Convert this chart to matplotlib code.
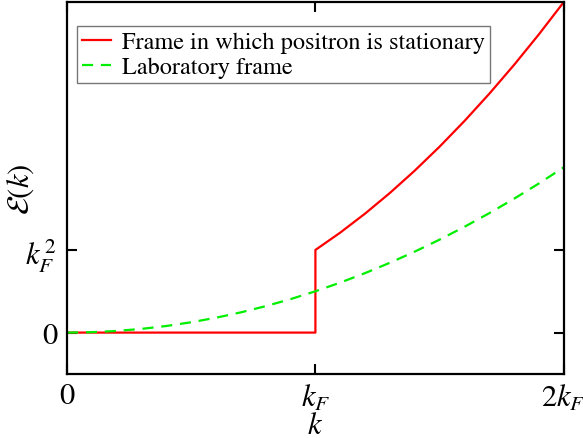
import matplotlib
matplotlib.use("Agg")
import matplotlib.pyplot as plt

plt.rcParams['font.family'] = ['STIXGeneral', 'Liberation Serif']
plt.rcParams['mathtext.fontset'] = 'stix'

# momentum in units of k_F, energy in units of k_F^2
k_lab = [0.0, 0.1, 0.2, 0.3, 0.4, 0.5, 0.6, 0.7, 0.8, 0.9, 1.0,
         1.1, 1.2, 1.3, 1.4, 1.5, 1.6, 1.7, 1.8, 1.9, 2.0]
e_lab = [0.0, 0.005, 0.02, 0.045, 0.08, 0.125, 0.18, 0.245, 0.32, 0.405, 0.5,
         0.605, 0.72, 0.845, 0.98, 1.125, 1.28, 1.445, 1.62, 1.805, 2.0]

k_rest = [0.0, 1.0, 1.0, 1.1, 1.2, 1.3, 1.4, 1.5, 1.6, 1.7, 1.8, 1.9, 2.0]
e_rest = [0.0, 0.0, 1.0, 1.21, 1.44, 1.69, 1.96, 2.25, 2.56, 2.89, 3.24, 3.61, 4.0]

xticks = [0, 1, 2]
xticklabels = ['0', r'$k_F$', r'$2k_F$']
yticks = [0, 1]
yticklabels = ['0', r'$k_F^{\,2}$']

fig = plt.figure(figsize=(5.83, 4.39), dpi=100)
ax = fig.add_axes([0.115, 0.146, 0.852, 0.847])

ax.plot(k_rest, e_rest, color='#ff0000', lw=1.6,
        label='Frame in which positron is stationary')
ax.plot(k_lab, e_lab, color='#00ee00', lw=1.6, ls=(0, (5, 3.5)),
        label='Laboratory frame')

ax.set_xlim(0, 2)
ax.set_ylim(-0.5, 4)
ax.set_xticks(xticks)
ax.set_xticklabels(xticklabels)
ax.set_yticks(yticks)
ax.set_yticklabels(yticklabels)
ax.tick_params(direction='in', length=7, width=1.5, top=True, right=True,
               labelsize=22, pad=7)
ax.tick_params(axis='x', pad=6)
for s in ax.spines.values():
    s.set_linewidth(1.6)

ax.set_xlabel(r'$k$', fontsize=22)
ax.xaxis.set_label_coords(0.5, -0.103)
ax.xaxis.label.set_va('top')
ax.set_ylabel(r'$\mathcal{E}(k)$', fontsize=22)
ax.yaxis.set_label_coords(-0.062, 0.5)

leg = ax.legend(loc='upper left', bbox_to_anchor=(0.02, 0.935),
                fontsize=17.5, frameon=True, fancybox=False,
                handlelength=1.2, handletextpad=0.45, borderpad=0.2,
                labelspacing=0.12, borderaxespad=0.0)
leg.get_frame().set_edgecolor('#555555')
leg.get_frame().set_linewidth(1.0)

fig.savefig('out.png', dpi=100)
